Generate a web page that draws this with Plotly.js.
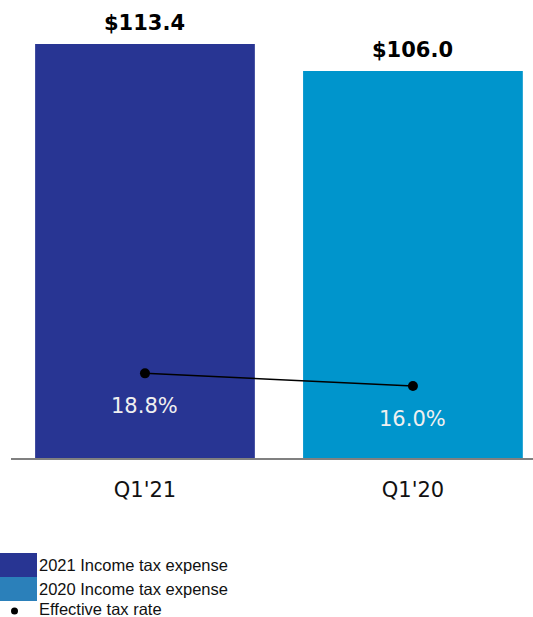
<!DOCTYPE html>
<html>
<head>
<meta charset="utf-8">
<script src="https://cdn.plot.ly/plotly-3.0.1.min.js"></script>
<style>html,body{margin:0;padding:0;background:#fff;}#chart{width:533px;height:617px;}</style>
</head>
<body>
<div id="chart"></div>
<script>
var categories = ["Q1'21", "Q1'20"];
var taxExpense = [113.4, 106.0];
var taxRate = [18.8, 16.0];
var expenseLabels = ["$113.4", "$106.0"];
var rateLabels = ["18.8%", "16.0%"];
var legendNames = ["2021 Income tax expense", "2020 Income tax expense", "Effective tax rate"];

var barColors = ["#283593", "#0095cc"];
var legendSwatch = ["#283593", "#2b80ba"];

var traces = [
  {type: 'bar', x: categories, y: taxExpense, marker: {color: barColors}, width: 0.82,
   showlegend: false, hoverinfo: 'none'},
  {type: 'scatter', mode: 'lines+markers', x: categories, y: taxRate, yaxis: 'y2',
   line: {color: '#000', width: 1.5}, marker: {color: '#000', size: 10},
   showlegend: false, hoverinfo: 'none'}
];

var annotations = [];
categories.forEach(function (c, i) {
  annotations.push({x: c, y: taxExpense[i], xref: 'x', yref: 'y', text: '<b>' + expenseLabels[i] + '</b>',
    showarrow: false, yanchor: 'bottom', yshift: 7,
    font: {family: 'DejaVu Sans', size: 21, color: '#000'}});
  annotations.push({x: c, y: taxRate[i], xref: 'x', yref: 'y2', text: rateLabels[i],
    showarrow: false, yanchor: 'middle', yshift: -33,
    font: {family: 'DejaVu Sans', size: 21, color: '#f0f0f0'}});
});

var shapes = [];
var legY = [553, 577];
for (var k = 0; k < 2; k++) {
  shapes.push({type: 'rect', xref: 'paper', yref: 'paper', layer: 'above',
    x0: -11 / 522, x1: 26 / 522,
    y0: (458 - legY[k]) / 448, y1: (458 - legY[k] - 24) / 448,
    fillcolor: legendSwatch[k], line: {width: 0}});
  annotations.push({xref: 'paper', yref: 'paper', x: 26 / 522, y: (458 - legY[k] - 12) / 448,
    xanchor: 'left', yanchor: 'middle', showarrow: false, text: legendNames[k],
    font: {family: 'Liberation Sans', size: 16.5, color: '#111'}});
}
shapes.push({type: 'circle', xref: 'paper', yref: 'paper', layer: 'above',
  x0: 0 / 522, x1: 7 / 522, y0: (458 - 607.5) / 448, y1: (458 - 614.5) / 448,
  fillcolor: '#000', line: {width: 0}});
annotations.push({xref: 'paper', yref: 'paper', x: 26 / 522, y: (458 - 609) / 448,
  xanchor: 'left', yanchor: 'middle', showarrow: false, text: legendNames[2],
  font: {family: 'Liberation Sans', size: 16.5, color: '#111'}});

var layout = {
  width: 533, height: 617,
  margin: {l: 11, r: 0, t: 10, b: 159},
  paper_bgcolor: '#fff', plot_bgcolor: '#fff',
  showlegend: false,
  xaxis: {type: 'category', range: [-0.5, 1.448], showgrid: false, zeroline: false,
    showline: true, linecolor: '#808080', linewidth: 2, ticks: '',
    tickfont: {family: 'DejaVu Sans', size: 21, color: '#111'}, ticklabelstandoff: 12, fixedrange: true},
  yaxis: {range: [0, 122.7], visible: false, fixedrange: true},
  yaxis2: {range: [0, 99.5], overlaying: 'y', visible: false, fixedrange: true},
  annotations: annotations,
  shapes: shapes
};

Plotly.newPlot('chart', traces, layout, {displayModeBar: false, staticPlot: true});
</script>
</body>
</html>
